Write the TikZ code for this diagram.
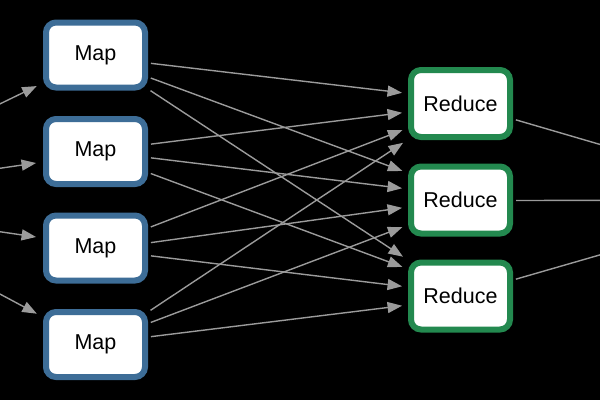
\documentclass[tikz,border=0pt]{standalone}
\usepackage{fontspec}
\setmainfont{Liberation Sans}
\usetikzlibrary{arrows.meta,calc}

\definecolor{mapblue}{RGB}{61,109,151}
\definecolor{redgreen}{RGB}{35,137,79}
\definecolor{edgegray}{RGB}{155,155,155}

\tikzset{
  box/.style={draw,line width=6pt,rounded corners=10pt,fill=white,
    minimum width=99pt,text=black,font=\fontsize{21.5}{26}\selectfont},
  mapbox/.style={box,draw=mapblue,minimum height=65pt},
  redbox/.style={box,draw=redgreen,minimum height=67pt},
  edge/.style={draw=edgegray,line width=1.4pt,
    -{Triangle[length=14.5pt,width=11pt]},shorten <=3pt,shorten >=6pt},
  outedge/.style={draw=edgegray,line width=1.4pt,shorten <=3pt}
}

\begin{document}
\begin{tikzpicture}[x=1pt,y=-1pt]
% Background
\fill[black] (0,0) rectangle (600,400);
\clip (0,0) rectangle (600,400);

% Map nodes
\node[mapbox] (m1) at (95.5,55) {Map};
\node[mapbox] (m2) at (95.5,151.5) {Map};
\node[mapbox] (m3) at (95.5,248) {Map};
\node[mapbox] (m4) at (95.5,344.5) {Map};

% Reduce nodes
\node[redbox] (r1) at (460.5,103.5) {Reduce};
\node[redbox] (r2) at (460.5,200) {Reduce};
\node[redbox] (r3) at (460.5,296) {Reduce};

% Off-page ends
\coordinate (in1) at (-60,133);
\coordinate (in2) at (-60,177);
\coordinate (in3) at (-60,223);
\coordinate (in4) at (-60,262);
\coordinate (out) at (790,200);

% Inputs
\draw[edge,shorten <=0pt,shorten >=7pt] (in1) -- ($(m1.west)+(0,28)$);
\draw[edge,shorten <=0pt,shorten >=7pt] (in2) -- ($(m2.west)+(0,10.5)$);
\draw[edge,shorten <=0pt,shorten >=7pt] (in3) -- ($(m3.west)+(0,-10)$);
\draw[edge,shorten <=0pt,shorten >=7pt] (in4) -- ($(m4.west)+(0,-27.5)$);

% Map -> Reduce
\foreach \m/\r/\a/\b in {1/1/8/-10, 1/2/22/-27, 1/3/34/-36,
                         2/1/-7/8.5, 2/2/6/-11, 2/3/21/-27,
                         3/1/-20/24.5, 3/2/-5/7, 3/3/7.5/-9,
                         4/1/-32.5/36, 4/2/-21/25, 4/3/-7.5/9}
  \draw[edge] ($(m\m.east)+(0,\a)$) -- ($(r\r.west)+(0,\b)$);

% Outputs
\draw[outedge] ($(r1.east)+(0,15.5)$) -- (out);
\draw[outedge] ($(r2.east)+(0,0.5)$) -- (out);
\draw[outedge] ($(r3.east)+(0,-16)$) -- (out);
\end{tikzpicture}
\end{document}
